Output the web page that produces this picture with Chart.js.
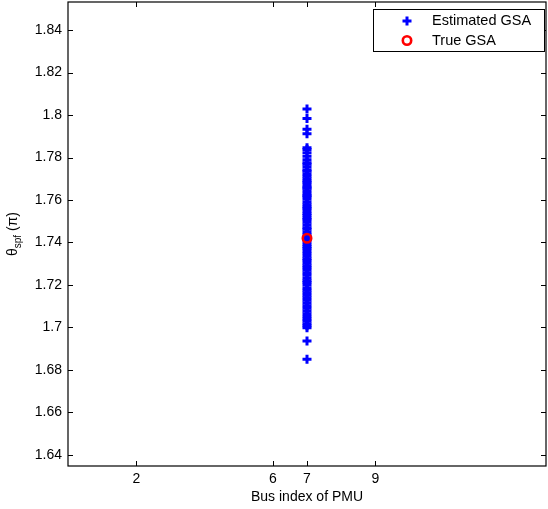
<!DOCTYPE html>
<html>
<head>
<meta charset="utf-8">
<script src="https://cdn.jsdelivr.net/npm/chart.js@4.4.1/dist/chart.umd.min.js"></script>
<style>
  html, body { margin: 0; padding: 0; background: #fff; }
  #wrap { width: 548px; height: 509px; }
</style>
</head>
<body>
<div id="wrap"><canvas id="chart" width="548" height="509"></canvas></div>
<script>
// data
const busIndex = 7;
const estimatedGsa = [
  1.8028, 1.7984, 1.7933, 1.7912, 1.7846, 1.7838, 1.7822, 1.7806, 1.7790, 1.7775,
  1.7768, 1.7755, 1.7741, 1.7735, 1.7722, 1.7712, 1.7700, 1.7690, 1.7682, 1.7671,
  1.7660, 1.7655, 1.7644, 1.7632, 1.7621, 1.7615, 1.7603, 1.7590, 1.7578, 1.7567,
  1.7560, 1.7548, 1.7536, 1.7527, 1.7515, 1.7508, 1.7495, 1.7482, 1.7470, 1.7462,
  1.7450, 1.7438, 1.7425, 1.7414, 1.7403, 1.7391, 1.7380, 1.7372, 1.7360, 1.7348,
  1.7335, 1.7324, 1.7315, 1.7302, 1.7290, 1.7281, 1.7270, 1.7258, 1.7246, 1.7232,
  1.7220, 1.7212, 1.7200, 1.7186, 1.7175, 1.7164, 1.7152, 1.7140, 1.7128, 1.7115,
  1.7102, 1.7090, 1.7078, 1.7065, 1.7052, 1.7040, 1.7030, 1.7018, 1.7008, 1.6999,
  1.6936, 1.6850
];
const trueGsa = 1.742;
const xTicks = [2, 6, 7, 9];
const yTicks = [1.64, 1.66, 1.68, 1.70, 1.72, 1.74, 1.76, 1.78, 1.80, 1.82, 1.84];
const seriesNames = ['Estimated GSA', 'True GSA'];

const FONT = 'Liberation Sans, Arial, Helvetica, sans-serif';

// matlab-like box with inward ticks, legend and axis titles
const boxPlugin = {
  id: 'box',
  afterDraw(chart) {
    const {ctx, chartArea: a, scales: {x, y}} = chart;
    ctx.save();
    ctx.strokeStyle = '#000';
    ctx.lineWidth = 1.2;
    ctx.strokeRect(a.left, a.top, a.right - a.left, a.bottom - a.top);

    ctx.lineWidth = 1;
    ctx.beginPath();
    x.ticks.forEach(t => {
      const px = Math.round(x.getPixelForValue(t.value)) + 0.5;
      ctx.moveTo(px, a.bottom); ctx.lineTo(px, a.bottom - 5);
      ctx.moveTo(px, a.top); ctx.lineTo(px, a.top + 5);
    });
    y.ticks.forEach(t => {
      const py = Math.round(y.getPixelForValue(t.value)) + 0.5;
      ctx.moveTo(a.left, py); ctx.lineTo(a.left + 5, py);
      ctx.moveTo(a.right, py); ctx.lineTo(a.right - 5, py);
    });
    ctx.stroke();

    // legend
    const lx = 373.5, ly = 9.5, lw = 171, lh = 42;
    ctx.fillStyle = '#fff';
    ctx.fillRect(lx, ly, lw, lh);
    ctx.strokeStyle = '#000';
    ctx.lineWidth = 1;
    ctx.strokeRect(lx, ly, lw, lh);
    const rows = [21, 40.5];
    chart.data.datasets.forEach((ds, i) => {
      const r = ds.pointRadius;
      ctx.strokeStyle = ds.borderColor;
      ctx.lineWidth = ds.pointBorderWidth;
      ctx.beginPath();
      if (ds.pointStyle === 'cross') {
        ctx.moveTo(407 - r, rows[i]); ctx.lineTo(407 + r, rows[i]);
        ctx.moveTo(407, rows[i] - r); ctx.lineTo(407, rows[i] + r);
      } else {
        ctx.arc(407, rows[i], r, 0, Math.PI * 2);
      }
      ctx.stroke();
      ctx.fillStyle = '#000';
      ctx.font = '14.5px ' + FONT;
      ctx.textBaseline = 'middle';
      ctx.textAlign = 'left';
      ctx.fillText(ds.label, 432, rows[i]);
    });

    // x title
    ctx.fillStyle = '#000';
    ctx.font = '14px ' + FONT;
    ctx.textAlign = 'center';
    ctx.textBaseline = 'middle';
    ctx.fillText('Bus index of PMU', (a.left + a.right) / 2, 497);

    // y title with subscript
    ctx.translate(11.5, 234);
    ctx.rotate(-Math.PI / 2);
    ctx.textAlign = 'left';
    ctx.textBaseline = 'alphabetic';
    const main = '14px ' + FONT, sub = '10px ' + FONT;
    ctx.font = main;
    const w1 = ctx.measureText('\u03b8').width;
    ctx.font = sub;
    const w2 = ctx.measureText('spf').width;
    ctx.font = main;
    const w3 = ctx.measureText(' (\u03c0)').width;
    let cx = -(w1 + w2 + w3) / 2;
    ctx.fillText('\u03b8', cx, 5);
    cx += w1;
    ctx.font = sub;
    ctx.fillText('spf', cx, 9);
    cx += w2;
    ctx.font = main;
    ctx.fillText(' (\u03c0)', cx, 5);
    ctx.restore();
  }
};

const noPad = s => { s.paddingTop = 0; s.paddingBottom = 0; s.paddingLeft = 0; s.paddingRight = 0; };

new Chart(document.getElementById('chart'), {
  type: 'scatter',
  data: {
    datasets: [{
      label: seriesNames[0],
      data: estimatedGsa.map(v => ({x: busIndex, y: v})),
      order: 1,
      pointStyle: 'cross',
      pointRadius: 4.5,
      pointBorderWidth: 3,
      borderColor: '#0000ff',
      backgroundColor: '#0000ff'
    }, {
      label: seriesNames[1],
      data: [{x: busIndex, y: trueGsa}],
      order: 0,
      pointStyle: 'circle',
      pointRadius: 4.2,
      pointBorderWidth: 2.6,
      borderColor: '#ff0000',
      backgroundColor: 'rgba(0,0,0,0)'
    }]
  },
  options: {
    responsive: false,
    animation: false,
    layout: {padding: {top: 2, right: 2, left: 0, bottom: 0}, autoPadding: false},
    plugins: {legend: {display: false}, tooltip: {enabled: false}},
    scales: {
      x: {
        type: 'linear',
        min: 0,
        max: 14,
        afterBuildTicks: s => { s.ticks = xTicks.map(v => ({value: v})); },
        afterFit: s => { s.height = 43; noPad(s); },
        grid: {display: false, drawTicks: false},
        border: {display: false},
        ticks: {color: '#000', font: {family: FONT, size: 14}, padding: 5, maxRotation: 0, autoSkip: false}
      },
      y: {
        type: 'linear',
        min: 1.6348,
        max: 1.8532,
        afterBuildTicks: s => { s.ticks = yTicks.map(v => ({value: v})); },
        afterFit: s => { s.width = 68; noPad(s); },
        grid: {display: false, drawTicks: false},
        border: {display: false},
        ticks: {
          color: '#000', font: {family: FONT, size: 14}, padding: 6, autoSkip: false,
          callback: v => String(+v.toFixed(2))
        }
      }
    }
  },
  plugins: [boxPlugin]
});
</script>
</body>
</html>
